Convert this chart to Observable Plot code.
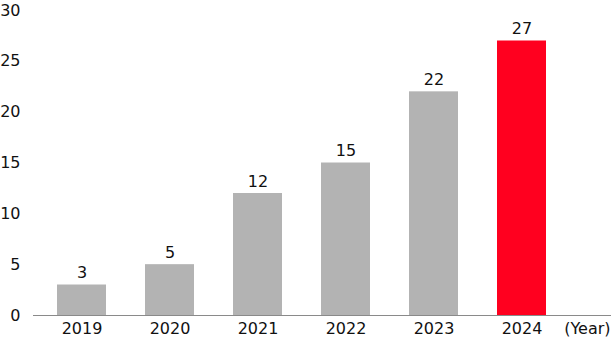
<!DOCTYPE html>
<html>
<head>
<meta charset="utf-8">
<script src="https://cdn.jsdelivr.net/npm/d3@7"></script>
<script src="https://cdn.jsdelivr.net/npm/@observablehq/plot@0.6"></script>
<style>
  html, body { margin: 0; padding: 0; background: #fff; }
  #chart svg { display: block; }
</style>
</head>
<body>
<div id="chart"></div>
<script>
const years = ["2019", "2020", "2021", "2022", "2023", "2024"];
const values = [3, 5, 12, 15, 22, 27];
const yTicks = [0, 5, 10, 15, 20, 25, 30];
const highlightYear = "2024";
const unitLabel = "(Year)";

const data = years.map((y, i) => ({year: y, value: values[i]}));
const font = "'DejaVu Sans', sans-serif";

const chart = Plot.plot({
  width: 611,
  height: 342,
  marginTop: 10,
  marginBottom: 27,
  marginLeft: 33,
  marginRight: 0,
  style: {fontFamily: font, fontSize: "16px", color: "#111", background: "#fff"},
  x: {domain: years, range: [38, 566], paddingInner: 0.443, paddingOuter: 0.2215},
  y: {domain: [0, 30]},
  marks: [
    Plot.barY(data, {
      x: "year", y: "value",
      fill: d => d.year === highlightYear ? "#ff001f" : "#b3b3b3"
    }),
    Plot.ruleY([0], {stroke: "#8a8a8a", strokeWidth: 1}),
    Plot.text(data, {
      x: "year", y: "value", text: d => String(d.value),
      lineAnchor: "bottom", dy: -7, fontSize: 16, fill: "#111"
    }),
    Plot.axisY({ticks: yTicks, tickSize: 0, tickPadding: 13, label: null, fontSize: 16}),
    Plot.axisX({tickSize: 0, tickPadding: 7, label: null, fontSize: 16}),
    Plot.text([unitLabel], {
      frameAnchor: "bottom-right", textAnchor: "end", lineAnchor: "top",
      dx: -1, dy: 7, fontSize: 16, fill: "#111", letterSpacing: "0.6px"
    })
  ]
});
document.getElementById("chart").appendChild(chart);
</script>
</body>
</html>
